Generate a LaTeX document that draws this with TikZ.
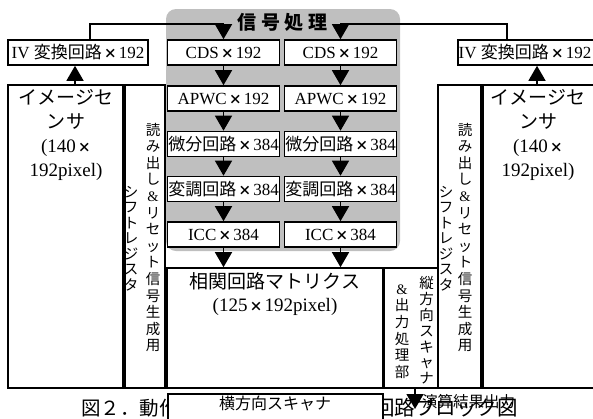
\documentclass[tikz,border=0pt]{standalone}
\usepackage{fontspec}
\setmainfont{Liberation Serif}
\newfontfamily\jp{Noto Sans CJK JP}
\usetikzlibrary{arrows.meta}
\newcommand{\X}{\hspace{2pt}{\jp\bfseries\fontsize{13}{13}\selectfont ×}\hspace{2pt}}
\newcommand{\fs}[2]{\fontsize{#1}{#2}\selectfont}
\begin{document}
\begin{tikzpicture}[x=1pt,y=-1pt,
  box/.style={draw, line width=1.6pt, fill=white, inner sep=0pt, font=\fs{17}{20}},
  proc/.style={box, minimum width=112pt, minimum height=25pt},
  tall/.style={box, line width=1.8pt, minimum height=303pt},
  arr/.style={line width=1.4pt, -{Triangle[length=15pt,width=17pt]}},
  vtext/.style={inner sep=0pt, align=center, font=\jp\fs{14.5}{#1}},
  bigtext/.style={inner sep=0pt, align=center, font=\fs{19}{24}},
  capt/.style={inner sep=0pt, font=\jp\fs{#1}{#1}},
  plain/.style={inner sep=0pt}
]
\useasboundingbox (0,0) rectangle (593,418);
% signal processing area
\fill[gray!50, rounded corners=10pt] (166,9) rectangle (400,251);
\node[plain, font=\jp\bfseries\fs{19}{19}] (title) at (282.5,22) {信\hspace{4.5pt}号\hspace{4.5pt}処\hspace{4.5pt}理};

% caption (partly hidden)
\node[capt=19.5, anchor=west] (capL) at (81,408) {図２．動作};
\node[capt=20.5, anchor=east] (capR) at (518,408) {回路ブロック図};

% processing boxes
\node[proc] (cdsL) at (223.5,52.5) {CDS\X192};
\node[proc] (cdsR) at (340.5,52.5) {CDS\X192};
\node[proc] (apwcL) at (223.5,98.5) {APWC\X192};
\node[proc] (apwcR) at (340.5,98.5) {APWC\X192};
\node[proc] (bibL) at (223.5,144) {{\jp 微分回路}\X384};
\node[proc] (bibR) at (340.5,144) {{\jp 微分回路}\X384};
\node[proc] (henL) at (223.5,189) {{\jp 変調回路}\X384};
\node[proc] (henR) at (340.5,189) {{\jp 変調回路}\X384};
\node[proc] (iccL) at (223.5,234.5) {ICC\X384};
\node[proc] (iccR) at (340.5,234.5) {ICC\X384};

% IV converters
\node[box, minimum width=140pt, minimum height=25pt] (ivL) at (78,52.5) {IV {\jp 変換回路}\X192};
\node[box, minimum width=140pt, minimum height=25pt] (ivR) at (528,52.5) {};
\node[plain, font=\fs{17}{20}] (ivRt) at (525,52.5) {IV {\jp 変換回路}\X192};

% image sensors
\node[tall, minimum width=115pt] (sensL) at (65.5,236.5) {};
\node[bigtext, anchor=north] (sensLt) at (66,89) {{\jp イメージセ}\\{\jp ンサ}\\(140\X\\192pixel)};
\node[tall, minimum width=115pt] (sensR) at (540.5,236.5) {};
\node[bigtext, anchor=north] (sensRt) at (538,89) {{\jp イメージセ}\\{\jp ンサ}\\(140\X\\192pixel)};

% shift registers
\node[tall, minimum width=40pt] (srL) at (145,236.5) {};
\node[vtext=16.6] (srLa) at (153,237.5) {読\\み\\出\\し\\{\rmfamily\&}\\リ\\セ\\ッ\\ト\\信\\号\\生\\成\\用};
\node[vtext=15.5] (srLb) at (131,238.5) {シ\\フ\\ト\\レ\\ジ\\ス\\タ};
\node[tall, minimum width=43pt] (srR) at (459.5,236.5) {};
\node[vtext=16.6] (srRa) at (465,237.5) {読\\み\\出\\し\\{\rmfamily\&}\\リ\\セ\\ッ\\ト\\信\\号\\生\\成\\用};
\node[vtext=15.5] (srRb) at (446,238.5) {シ\\フ\\ト\\レ\\ジ\\ス\\タ};

% correlation matrix
\node[box, minimum width=216pt, minimum height=120pt] (matrix) at (275,328) {};
\node[bigtext, anchor=north, font=\fs{19}{23}] (matrixt) at (275,272) {{\jp 相関回路マトリクス}\\(125\X192pixel)};

% vertical scanner
\node[box, minimum width=54pt, minimum height=120pt] (vscan) at (411,328) {};
\node[vtext=15.8] (vscanA) at (426.5,330.5) {縦\\方\\向\\ス\\キ\\ャ\\ナ};
\node[vtext=16.6] (vscanB) at (402,331.5) {{\rmfamily\&}\\出\\力\\処\\理\\部};

% horizontal scanner
\node[box, minimum width=215pt, minimum height=40pt, anchor=north] (hscan) at (275.5,393) {};
\node[plain, font=\jp\fs{16}{16}] (hscant) at (275,403) {横方向スキャナ};

% output
\node[plain, font=\jp\fs{15.5}{15.5}, anchor=west] (result) at (422,402) {演算結果出力};
\coordinate (out) at (415,409);
\draw[arr] (vscan.south -| out) -- (out);

% connectors
\coordinate (tl) at (90,24);
\coordinate (tr) at (507,24);
\draw[arr] (ivL.north -| tl) -- (tl) -- (tl -| cdsL) -- (cdsL.north);
\draw[arr] (ivR.north -| tr) -- (tr) -- (tr -| cdsR) -- (cdsR.north);
\coordinate (ul) at (75,0);
\coordinate (ur) at (537,0);
\draw[arr] (sensL.north -| ul) -- (ivL.south -| ul);
\draw[arr] (sensR.north -| ur) -- (ivR.south -| ur);
\foreach \s in {L,R}{
  \draw[arr] (cds\s.south) -- (apwc\s.north);
  \draw[arr] (apwc\s.south) -- (bib\s.north);
  \draw[arr] (bib\s.south) -- (hen\s.north);
  \draw[arr] (hen\s.south) -- (icc\s.north);
  \draw[arr] (icc\s.south) -- (icc\s.south |- matrix.north);
}
\end{tikzpicture}
\end{document}
